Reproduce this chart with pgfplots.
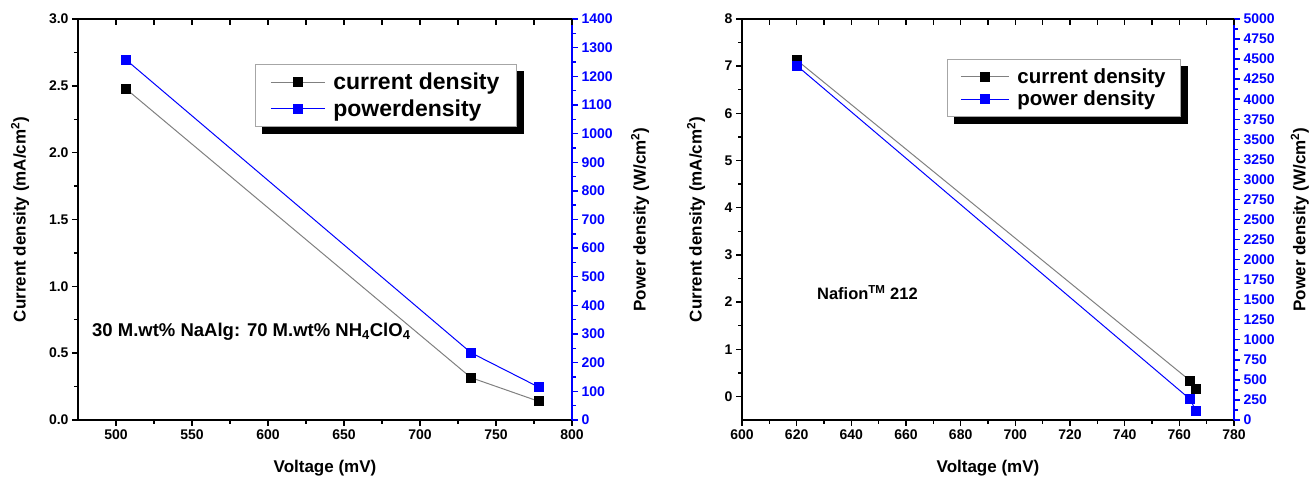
\documentclass[border=0pt]{standalone}
\usepackage{fontspec}
\setmainfont{Liberation Sans}
\usepackage{pgfplots}
\pgfplotsset{compat=1.18}
\usetikzlibrary{backgrounds}

\pgfplotsset{
  base/.style={
    scale only axis,
    clip=false,
    tick label style={font=\fontsize{14}{16}\selectfont\bfseries},
    /pgf/number format/assume math mode=true,
    /pgf/number format/1000 sep={},
    label style={font=\fontsize{17}{20}\selectfont\bfseries},
    axis line style={line width=1.6pt, -},
    tick style={line width=1.4pt, black},
    major tick length=6pt, minor tick length=4pt,
    tick align=outside,
  },
  myleg/.style={
    legend cell align=left,
    legend style={draw=gray!70, line width=0.8pt, fill=white,
      inner xsep=15pt, inner ysep=7pt, row sep=4pt,
      /tikz/every odd column/.append style={column sep=6pt}},
  },
}

\begin{document}
\begin{tikzpicture}
\useasboundingbox (0,0) rectangle (1309pt,478pt);

% ================= LEFT CHART =================
\begin{axis}[base, myleg, at={(78pt,58pt)}, anchor=south west,
  width=494pt, height=401pt,
  xmin=475, xmax=800, ymin=0, ymax=3,
  axis x line*=bottom, axis y line*=left,
  xtick={500,550,...,800}, minor x tick num=1,
  ytick={0,0.5,...,3}, minor y tick num=1,
  yticklabel style={/pgf/number format/.cd, fixed, fixed zerofill, precision=1},
  xlabel={Voltage (mV)},
  ylabel={Current density (mA/cm\textsuperscript{2})},
  xlabel style={at={(axis description cs:0.5,-0.12)}, anchor=center},
  ylabel style={at={(axis description cs:-0.117,0.5)}, anchor=center},
  legend style={name=legL, at={(0.358,0.888)}, anchor=north west,
    font=\fontsize{23}{26}\selectfont\bfseries},
  legend image code/.code={%
    \draw[#1, mark=none] (0pt,0pt) -- (54pt,0pt);
    \path[#1] plot coordinates {(27pt,0pt)};},
]
\addplot[color=gray, line width=1pt, mark=square*, mark size=4.5pt,
  mark options={fill=black, draw=black}]
  coordinates {(506.5,2.478) (733.5,0.317) (778,0.14)};
\addlegendentry{current density}
\addlegendimage{color=blue, line width=1pt, mark=square*, mark size=4.5pt, mark options={fill=blue, draw=blue}}
\addlegendentry{powerdensity}
\node[anchor=base west, inner sep=0pt, font=\fontsize{18.5}{22}\selectfont\bfseries]
  at (axis cs:484.2,0.623) {30 M.wt\% NaAlg: 70 M.wt\% NH\textsubscript{4}ClO\textsubscript{4}};
\end{axis}

\begin{axis}[base, at={(78pt,58pt)}, anchor=south west,
  width=494pt, height=401pt,
  xmin=475, xmax=800, ymin=0, ymax=1400,
  axis x line=none, axis y line*=right,
  y axis line style={blue},
  tick style={line width=1.4pt, blue},
  ytick={0,100,...,1400}, minor y tick num=1,
  yticklabel style={blue},
  ylabel={Power density (W/cm\textsuperscript{2})},
  ylabel style={at={(axis description cs:1.138,0.5)}, anchor=center},
]
\addplot[color=blue, line width=1pt, mark=square*, mark size=4.5pt,
  mark options={fill=blue, draw=blue}]
  coordinates {(506.5,1258) (733.5,235) (778,115)};
\end{axis}

\begin{axis}[base, at={(78pt,58pt)}, anchor=south west,
  width=494pt, height=401pt,
  xmin=475, xmax=800, ymin=0, ymax=1,
  axis x line*=top, axis y line=none,
  tick align=inside,
  xtick={500,525,...,800}, xticklabels={},
]
\end{axis}

% ================= RIGHT CHART =================
\begin{axis}[base, myleg, at={(742pt,58pt)}, anchor=south west,
  width=492pt, height=401pt,
  xmin=600, xmax=780, ymin=-0.5, ymax=8,
  axis x line*=bottom, axis y line*=left,
  xtick={600,620,...,780}, minor x tick num=1,
  ytick={0,1,...,8}, minor y tick num=1,
  xlabel={Voltage (mV)},
  ylabel={Current density (mA/cm\textsuperscript{2})},
  xlabel style={at={(axis description cs:0.5,-0.12)}, anchor=center},
  ylabel style={at={(axis description cs:-0.0935,0.5)}, anchor=center},
  legend style={name=legR, at={(0.4167,0.9)}, anchor=north west,
    font=\fontsize{20.5}{24}\selectfont\bfseries, inner xsep=13pt, inner ysep=7pt, row sep=2pt},
  legend image code/.code={%
    \draw[#1, mark=none] (0pt,0pt) -- (48pt,0pt);
    \path[#1] plot coordinates {(24pt,0pt)};},
]
\addplot[color=gray, line width=1pt, mark=square*, mark size=4.5pt,
  mark options={fill=black, draw=black}]
  coordinates {(620,7.13) (764,0.33) (766,0.15)};
\addlegendentry{current density}
\addlegendimage{color=blue, line width=1pt, mark=square*, mark size=4.5pt, mark options={fill=blue, draw=blue}}
\addlegendentry{power density}
\node[anchor=base west, inner sep=0pt, font=\fontsize{16.5}{20}\selectfont\bfseries]
  at (axis cs:627.4,2.058) {Nafion\textsuperscript{TM} 212};
\end{axis}

\begin{axis}[base, at={(742pt,58pt)}, anchor=south west,
  width=492pt, height=401pt,
  xmin=600, xmax=780, ymin=0, ymax=5000,
  axis x line=none, axis y line*=right,
  y axis line style={blue},
  tick style={line width=1.4pt, blue},
  ytick={0,250,...,5000}, minor y tick num=1,
  yticklabel style={blue},
  ylabel={Power density (W/cm\textsuperscript{2})},
  ylabel style={at={(axis description cs:1.134,0.5)}, anchor=center},
]
\addplot[color=blue, line width=1pt, mark=square*, mark size=4.5pt,
  mark options={fill=blue, draw=blue}]
  coordinates {(620,4420) (764,257) (766,116)};
\end{axis}

\begin{axis}[base, at={(742pt,58pt)}, anchor=south west,
  width=492pt, height=401pt,
  xmin=600, xmax=780, ymin=0, ymax=1,
  axis x line*=top, axis y line=none,
  tick align=inside,
  xtick={600,610,...,780}, xticklabels={},
]
\end{axis}

\begin{pgfonlayer}{background}
\fill[black] ([shift={(7pt,-7pt)}]legL.south west) rectangle ([shift={(7pt,-7pt)}]legL.north east);
\fill[black] ([shift={(7pt,-7pt)}]legR.south west) rectangle ([shift={(7pt,-7pt)}]legR.north east);
\end{pgfonlayer}
\end{tikzpicture}
\end{document}
